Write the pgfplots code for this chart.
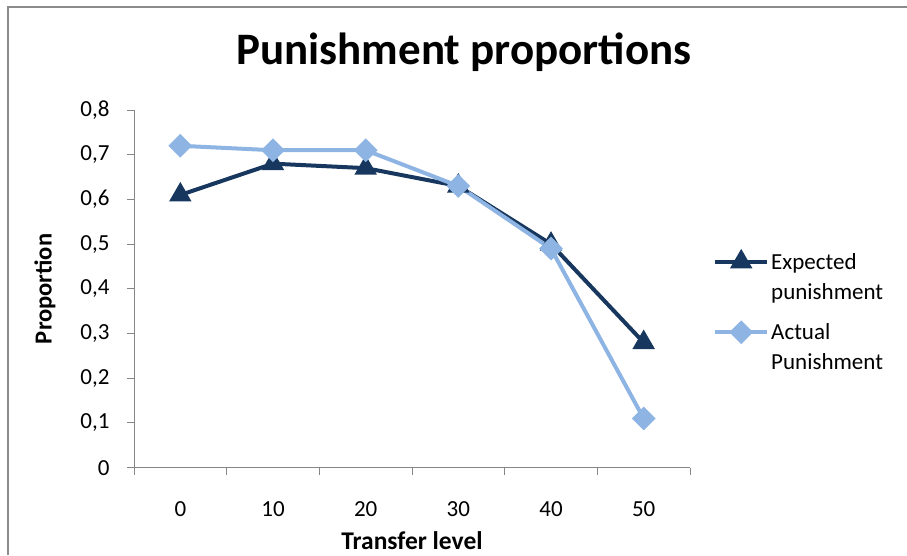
\documentclass[border=0pt]{standalone}
\usepackage{pgfplots}
\pgfplotsset{compat=1.18}
\usepackage{fontspec}
\setmainfont{Carlito}
\definecolor{navy}{HTML}{17375E}
\definecolor{skyb}{HTML}{8EB4E3}
\definecolor{framegray}{HTML}{8C8C8C}
\definecolor{axgray}{HTML}{868686}
\begin{document}
\begin{tikzpicture}
\useasboundingbox (0pt,0pt) rectangle (907pt,555pt);
% outer chart frame (only top and left edges are visible in the crop)
\draw[framegray, line width=1.5pt] (8pt,0pt) -- (8pt,548pt) -- (907pt,548pt);
\begin{axis}[
    at={(134pt,87.3pt)}, anchor=south west,
    scale only axis, width=556pt, height=357.7pt,
    xmin=-0.5, xmax=5.5, ymin=0, ymax=0.8,
    axis lines*=left,
    axis line style={axgray, line width=1pt},
    tick align=outside,
    xtick={0,1,2,3,4,5},
    xticklabels={0,10,20,30,40,50},
    major x tick style={draw=none},
    minor xtick={-0.5,0.5,1.5,2.5,3.5,4.5,5.5},
    minor tick length=7pt,
    minor tick style={axgray, line width=1pt},
    ytick={0,0.1,0.2,0.3,0.4,0.5,0.6,0.7,0.8},
    yticklabels={0,{0,1},{0,2},{0,3},{0,4},{0,5},{0,6},{0,7},{0,8}},
    major tick length=7pt,
    major y tick style={axgray, line width=1pt},
    tick label style={font=\fontsize{23}{28}\selectfont, black},
    xticklabel style={anchor=base, yshift=-42pt},
    yticklabel style={anchor=east, xshift=-14pt},
    title={Punishment proportions},
    title style={at={(0.5935,1.1118)}, anchor=base, font=\fontsize{45}{54}\selectfont\bfseries},
    xlabel={Transfer level},
    ylabel={Proportion},
    xlabel style={at={(axis description cs:0.5,-0.2300)}, anchor=base, font=\fontsize{25.5}{30}\selectfont\bfseries},
    ylabel style={at={(axis description cs:-0.1601,0.5)}, anchor=center, font=\fontsize{24.5}{29}\selectfont\bfseries},
    legend style={draw=none, fill=none, inner sep=0pt, at={(1.0414,0.606)}, anchor=north west,
        cells={anchor=west, align=left}, row sep=19pt,
        font=\fontsize{23}{30}\selectfont},
    legend image code/.code={\draw[mark repeat=2,mark phase=2,#1] plot coordinates {(0pt,15pt) (26pt,15pt) (52pt,15pt)};},
    clip=false,
]
\addplot[navy, line width=4pt, mark=triangle*, mark size=9pt, mark options={solid}]
    coordinates {(0,0.61) (1,0.68) (2,0.67) (3,0.63) (4,0.50) (5,0.28)};
\addlegendentry{Expected\\punishment}
\addplot[skyb, line width=4pt, mark=square*, mark size=6.4pt, mark options={solid, rotate=45}]
    coordinates {(0,0.72) (1,0.71) (2,0.71) (3,0.63) (4,0.49) (5,0.11)};
\addlegendentry{Actual\\Punishment}
\end{axis}
\end{tikzpicture}
\end{document}
